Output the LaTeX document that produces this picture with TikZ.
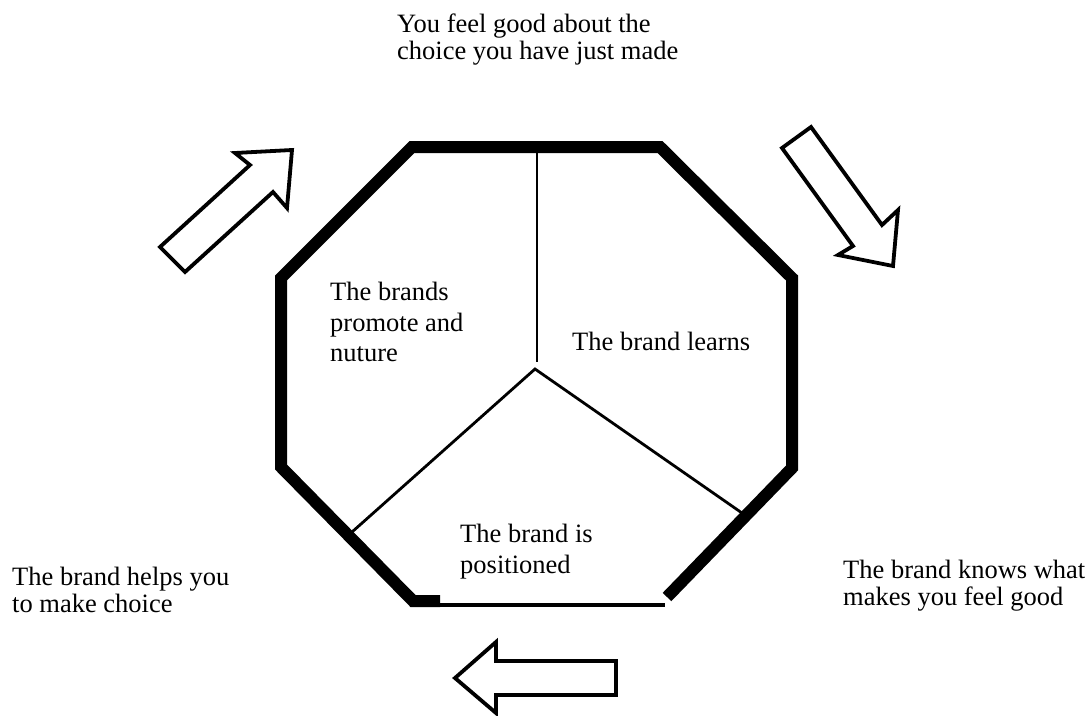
\documentclass[tikz,border=0pt]{standalone}
\usepackage{fontspec}
\setmainfont{Liberation Serif}
\begin{document}
\begin{tikzpicture}[x=1pt,y=-1pt,
  rim/.style={line width=12pt, line join=miter},
  thinrim/.style={line width=4pt},
  spoke/.style={line width=2.8pt},
  blockarrow/.style={draw, line width=3.8pt, line join=miter, fill=white},
  lbl/.style={anchor=north west, inner sep=0pt, align=left},
  fa/.style={font=\fontsize{26.5}{26.5}\selectfont},
  fb/.style={font=\fontsize{26.5}{30.5}\selectfont}]
\useasboundingbox (0,0) rectangle (1091,715);
% octagon vertices
\coordinate (tl) at (412,147);
\coordinate (tr) at (660,147);
\coordinate (rt) at (792,278);
\coordinate (rb) at (792,468);
\coordinate (br) at (667,597);
\coordinate (bl) at (413,601);
\coordinate (blx) at (440,601);
\coordinate (lb) at (281,467);
\coordinate (lt) at (281,278);
\coordinate (bthinl) at (413,605);
\coordinate (bthinr) at (665,605);
% spokes
\coordinate (vtop) at (537,150);
\coordinate (vbot) at (537,362);
\coordinate (hub) at (535,369);
\coordinate (sl) at (352,532);
\coordinate (sr) at (742,513);
\draw[rim] (blx) -- (bl) -- (lb) -- (lt) -- (tl) -- (tr) -- (rt) -- (rb) -- (br);
\draw[thinrim] (bthinl) -- (bthinr);
\draw[spoke] (vtop) -- (vbot);
\draw[spoke] (sl) -- (hub) -- (sr);
% block arrows
\draw[blockarrow] (160,247) -- (250,165) -- (235,153) -- (292,150) -- (287,208) -- (273,192) -- (185,272) -- cycle;
\draw[blockarrow] (782,148) -- (811,127) -- (882,225) -- (898,210) -- (893,266) -- (838,255) -- (853,246) -- cycle;
\draw[blockarrow] (616,661) -- (496,661) -- (496,642) -- (455,678) -- (496,713) -- (496,695) -- (616,695) -- cycle;
% labels
\node[lbl,fa] (ttop) at (397,14) {You feel good about the\\choice you have just made};
\node[lbl,fa] (tleft) at (12,567) {The brand helps you\\to make choice};
\node[lbl,fa] (tright) at (843,560) {The brand knows what\\makes you feel good};
\node[lbl,fb] (tprom) at (330,282) {The brands\\promote and\\nuture};
\node[lbl,fb] (tlearn) at (572,332) {The brand learns};
\node[lbl,fb] (tpos) at (460,524) {The brand is\\positioned};
\end{tikzpicture}
\end{document}
